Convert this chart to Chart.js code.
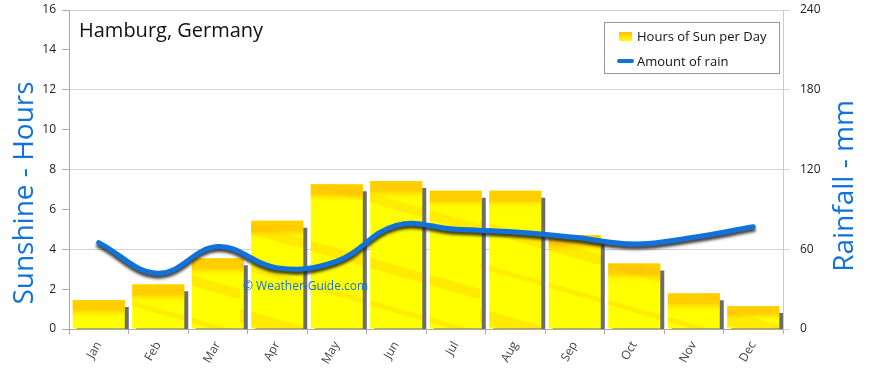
<!DOCTYPE html>
<html>
<head>
<meta charset="utf-8">
<script src="https://cdn.jsdelivr.net/npm/chart.js@4"></script>
<style>
html,body{margin:0;padding:0;background:#fff;}
#wrap{width:870px;height:368px;position:relative;}
</style>
</head>
<body>
<div id="wrap"><canvas id="c" width="870" height="368"></canvas></div>
<script>
const months = ['Jan','Feb','Mar','Apr','May','Jun','Jul','Aug','Sep','Oct','Nov','Dec'];
const sunHours = [1.45, 2.24, 3.55, 5.43, 7.26, 7.42, 6.94, 6.94, 4.71, 3.29, 1.79, 1.15];
const rainMm = [65, 42, 62, 46, 51, 78, 75, 73, 69, 64, 69, 77];
const sunTicks = [0, 2, 4, 6, 8, 10, 12, 14, 16];
const rainTicks = [0, 60, 120, 180, 240];
const chartTitle = 'Hamburg, Germany';
const leftTitle = 'Sunshine - Hours';
const rightTitle = 'Rainfall - mm';
const watermark = '\u00A9 Weather-Guide.com';

const FONT = '"Open Sans", "DejaVu Sans", sans-serif';
const BLUE = '#1172dc';

let streakPattern = null;
function makePattern(c) {
  if (streakPattern) return streakPattern;
  const off = document.createElement('canvas');
  off.width = 240; off.height = 240;
  const o = off.getContext('2d');
  o.fillStyle = '#ffff00';
  o.fillRect(0, 0, 240, 240);
  const bands = [[20, 10, 0.3], [60, 5, 0.25], [110, 14, 0.3], [150, 6, 0.22], [195, 9, 0.28]];
  bands.forEach(b => {
    o.strokeStyle = 'rgba(255,185,0,' + b[2] + ')';
    o.lineWidth = b[1];
    [-240, 0, 240].forEach(d => {
      o.beginPath();
      o.moveTo(-20, b[0] + d - 40);
      o.lineTo(260, b[0] + d + 40);
      o.stroke();
    });
  });
  streakPattern = c.createPattern(off, 'repeat');
  return streakPattern;
}

function barFill(ctx) {
  return makePattern(ctx.chart.ctx);
}

const shadowPlugin = {
  id: 'shadows',
  beforeDatasetDraw(chart, args) {
    const c = chart.ctx;
    c.save();
    if (args.index === 0) {
      c.shadowColor = 'rgba(100,100,100,0.95)';
      c.shadowOffsetX = 4;
      c.shadowOffsetY = 7;
      c.shadowBlur = 1;
    } else {
      c.shadowColor = 'rgba(30,30,30,0.85)';
      c.shadowOffsetX = 0;
      c.shadowOffsetY = 3;
      c.shadowBlur = 3;
    }
  },
  afterDatasetDraw(chart, args) {
    const c = chart.ctx;
    c.restore();
    if (args.index === 0) {
      const meta = chart.getDatasetMeta(0);
      c.save();
      meta.data.forEach(bar => {
        const w = bar.width, x = bar.x - w / 2, top = bar.y;
        const h = Math.min(28, bar.base - top);
        const g = c.createLinearGradient(0, top, 0, top + h);
        g.addColorStop(0, 'rgba(255,200,0,0.85)');
        g.addColorStop(0.35, 'rgba(255,175,0,0.6)');
        g.addColorStop(0.6, 'rgba(255,230,0,0.15)');
        g.addColorStop(1, 'rgba(255,255,0,0)');
        c.fillStyle = g;
        c.fillRect(x, top, w, h);
      });
      c.restore();
    }
  }
};

const textPlugin = {
  id: 'texts',
  afterDraw(chart) {
    const c = chart.ctx;
    const a = chart.chartArea;
    c.save();
    c.fillStyle = '#111';
    c.font = '20px ' + FONT;
    c.textAlign = 'left';
    c.textBaseline = 'middle';
    c.fillText(chartTitle, a.left + 10, 31);
    c.fillStyle = BLUE;
    c.font = '12px ' + FONT;
    c.fillText(watermark, 243, 287);
    c.font = '28px ' + FONT;
    c.fillStyle = BLUE;
    c.textAlign = 'center';
    c.save();
    c.translate(25, 193);
    c.rotate(-Math.PI / 2);
    c.fillText(leftTitle, 0, 0);
    c.restore();
    c.save();
    c.translate(845, 186);
    c.rotate(-Math.PI / 2);
    c.fillText(rightTitle, 0, 0);
    c.restore();
    const lx = 604, ly = 22, lw = 175, lh = 51;
    c.fillStyle = '#fff';
    c.fillRect(lx, ly, lw, lh);
    c.strokeStyle = '#999';
    c.lineWidth = 1;
    c.strokeRect(lx + 0.5, ly + 0.5, lw, lh);
    const ds = chart.data.datasets;
    const g = c.createLinearGradient(0, 33, 0, 41);
    g.addColorStop(0, '#ffc000');
    g.addColorStop(0.5, '#ffe600');
    g.addColorStop(1, '#ffff00');
    c.fillStyle = g;
    c.fillRect(619, 32, 13, 9);
    c.fillStyle = '#111';
    c.font = '13px ' + FONT;
    c.textAlign = 'left';
    c.fillText(ds[0].label, 637, 37);
    c.strokeStyle = BLUE;
    c.lineWidth = 4;
    c.lineCap = 'round';
    c.beginPath();
    c.moveTo(619, 61);
    c.lineTo(632, 61);
    c.stroke();
    c.fillText(ds[1].label, 637, 62);
    c.restore();
  }
};

new Chart(document.getElementById('c'), {
  data: {
    labels: months,
    datasets: [
      {
        type: 'bar',
        label: 'Hours of Sun per Day',
        data: sunHours,
        yAxisID: 'y',
        backgroundColor: barFill,
        borderWidth: 0,
        barPercentage: 0.875,
        categoryPercentage: 1.0,
        order: 2
      },
      {
        type: 'line',
        label: 'Amount of rain',
        data: rainMm,
        yAxisID: 'y1',
        borderColor: BLUE,
        borderWidth: 5,
        pointRadius: 0,
        tension: 0.4,
        fill: false,
        order: 1,
        borderCapStyle: 'round'
      }
    ]
  },
  options: {
    responsive: false,
    animation: false,
    devicePixelRatio: 1,
    layout: { padding: { top: 10, left: 0, right: 0, bottom: 0 } },
    plugins: { legend: { display: false }, tooltip: { enabled: false } },
    scales: {
      x: {
        offset: true,
        grid: { display: true, drawOnChartArea: false, offset: true, color: '#aaa', tickLength: 5 },
        border: { color: '#aaa' },
        ticks: { color: '#444', font: { family: FONT, size: 12 }, minRotation: 60, maxRotation: 60, padding: 5 },
        afterFit(s) { s.height = 39; s.paddingLeft = 0; s.paddingRight = 0; }
      },
      y: {
        position: 'left',
        min: 0, max: 16,
        afterBuildTicks(s) { s.ticks = sunTicks.map(v => ({ value: v })); },
        grid: { drawOnChartArea: false, color: '#aaa', tickLength: 7 },
        border: { color: '#aaa' },
        ticks: { color: '#222', font: { family: FONT, size: 12 }, padding: 6 },
        afterFit(s) { s.width = 69; s.paddingTop = 0; s.paddingBottom = 0; }
      },
      y1: {
        position: 'right',
        min: 0, max: 240,
        afterBuildTicks(s) { s.ticks = rainTicks.map(v => ({ value: v })); },
        grid: { drawOnChartArea: true, color: '#d0d0d0', tickLength: 7 },
        border: { color: '#ccc' },
        ticks: { color: '#222', font: { family: FONT, size: 12 }, padding: 10 },
        afterFit(s) { s.width = 87; s.paddingTop = 0; s.paddingBottom = 0; }
      }
    }
  },
  plugins: [shadowPlugin, textPlugin]
});
</script>
</body>
</html>
